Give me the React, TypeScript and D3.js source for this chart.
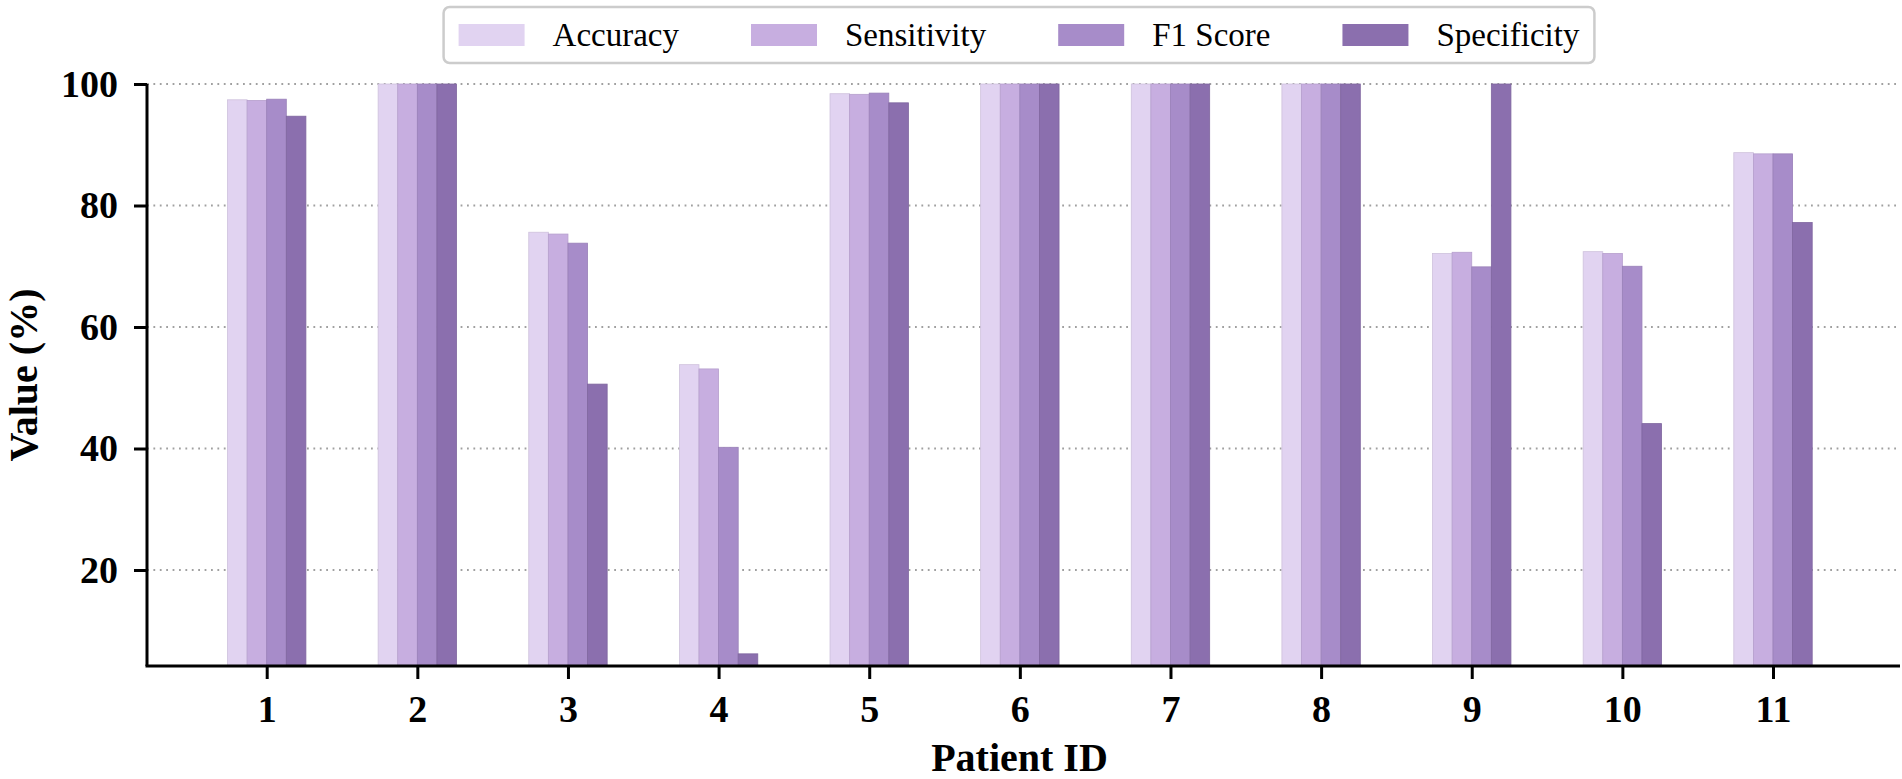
import React, { useEffect, useRef } from 'react';
import * as d3 from 'd3';

const patients = ['1', '2', '3', '4', '5', '6', '7', '8', '9', '10', '11'];
const metrics = ['Accuracy', 'Sensitivity', 'F1 Score', 'Specificity'];
const accuracy = [97.4, 100, 75.6, 53.8, 98.4, 100, 100, 100, 72.1, 72.4, 88.7];
const sensitivity = [97.3, 100, 75.3, 53.1, 98.3, 100, 100, 100, 72.3, 72.1, 88.5];
const f1Score = [97.5, 100, 73.8, 40.2, 98.5, 100, 100, 100, 69.9, 70.0, 88.5];
const specificity = [94.7, 100, 50.6, 6.2, 96.9, 100, 100, 100, 100, 44.1, 77.2];
const yTicks = [20, 40, 60, 80, 100];
const colors = ['#e1d3f1', '#c7aee0', '#a78cc9', '#8b6fae'];

const series = [accuracy, sensitivity, f1Score, specificity];

const App: React.FC = () => {
  const svgRef = useRef<SVGSVGElement>(null);

  useEffect(() => {
    if (!svgRef.current) return;
    document.body.style.margin = '0';

    const svg = d3.select(svgRef.current);
    svg.selectAll('*').remove();

    const width = 1902;
    const height = 779;
    const left = 147;
    const right = 1900;
    const top = 84;
    const bottom = 666;
    const font = '"Liberation Serif", "Times New Roman", serif';

    const x = d3.scalePoint<string>()
      .domain(patients)
      .range([266.7, 1773]);

    const y = d3.scaleLinear()
      .domain([4.2, 100])
      .range([bottom, top]);

    const barW = 19.6;

    // Grid lines (dotted)
    svg.append('g')
      .selectAll('line')
      .data(yTicks)
      .enter()
      .append('line')
      .attr('x1', left)
      .attr('x2', right)
      .attr('y1', d => y(d))
      .attr('y2', d => y(d))
      .attr('stroke', '#a0a0a0')
      .attr('stroke-width', 1.8)
      .attr('stroke-dasharray', '1.8,4.6');

    // Bars
    series.forEach((vals, si) => {
      svg.append('g')
        .selectAll('rect')
        .data(vals)
        .enter()
        .append('rect')
        .attr('x', (_, i) => x(patients[i])! - 2 * barW + si * barW)
        .attr('y', d => y(d))
        .attr('width', barW)
        .attr('height', d => bottom - y(d))
        .attr('fill', colors[si])
        .attr('stroke', d3.color(colors[si])!.darker(0.25).toString())
        .attr('stroke-width', 0.8);
    });

    // Y axis
    const yAxis = svg.append('g')
      .attr('transform', `translate(${left},0)`)
      .call(d3.axisLeft(y).tickValues(yTicks).tickSize(13).tickPadding(16).tickFormat(d3.format('d')));
    yAxis.select('.domain').attr('d', `M0,${top}V${bottom}`).attr('stroke', '#000').attr('stroke-width', 3);
    yAxis.selectAll('.tick line').attr('stroke', '#000').attr('stroke-width', 3);
    yAxis.selectAll('.tick text')
      .attr('font-family', font)
      .attr('font-weight', 'bold')
      .attr('font-size', 38)
      .attr('fill', '#000');

    // X axis
    const xAxis = svg.append('g')
      .attr('transform', `translate(0,${bottom})`)
      .call(d3.axisBottom(x).tickSize(13).tickPadding(16));
    xAxis.select('.domain').attr('d', `M${left - 1.5},0H${right}`).attr('stroke', '#000').attr('stroke-width', 3);
    xAxis.selectAll('.tick line').attr('stroke', '#000').attr('stroke-width', 3);
    xAxis.selectAll('.tick text')
      .attr('font-family', font)
      .attr('font-weight', 'bold')
      .attr('font-size', 38)
      .attr('fill', '#000');

    // Axis titles
    svg.append('text')
      .attr('x', (left + right) / 2 - 4)
      .attr('y', 771)
      .attr('text-anchor', 'middle')
      .attr('font-family', font)
      .attr('font-weight', 'bold')
      .attr('font-size', 40)
      .text('Patient ID');

    svg.append('text')
      .attr('transform', `translate(37,${(top + bottom) / 2}) rotate(-90)`)
      .attr('text-anchor', 'middle')
      .attr('font-family', font)
      .attr('font-weight', 'bold')
      .attr('font-size', 40)
      .text('Value (%)');

    // Legend
    const lg = svg.append('g');
    const patchW = 66;
    const patchH = 22;
    const textPad = 28;
    const colGap = 72;
    const legendFont = 33;
    const items = lg.selectAll('g')
      .data(metrics)
      .enter()
      .append('g');
    items.append('rect')
      .attr('width', patchW)
      .attr('height', patchH)
      .attr('y', -patchH / 2)
      .attr('fill', (_, i) => colors[i]);
    items.append('text')
      .attr('x', patchW + textPad)
      .attr('dy', '0.34em')
      .attr('font-family', font)
      .attr('font-size', legendFont)
      .text(d => d);

    let cx = 0;
    items.each(function () {
      const g = d3.select(this);
      const w = (g.select('text').node() as SVGTextElement).getComputedTextLength();
      g.attr('transform', `translate(${cx},0)`);
      cx += patchW + textPad + w + colGap;
    });
    const totalW = cx - colGap;
    const pad = 15;
    const boxW = totalW + 2 * pad;
    const boxX = 1019 - boxW / 2;
    const legendY = 35;
    lg.insert('rect', ':first-child')
      .attr('x', -pad)
      .attr('y', -28)
      .attr('width', boxW)
      .attr('height', 56)
      .attr('rx', 6)
      .attr('fill', '#fff')
      .attr('stroke', '#cccccc')
      .attr('stroke-width', 2.5);
    lg.attr('transform', `translate(${boxX + pad},${legendY})`);

    svg.attr('width', width).attr('height', height);
  }, []);

  return (
    <div style={{ position: 'absolute', left: 0, top: 0, width: 1902, height: 779, background: '#fff' }}>
      <svg ref={svgRef} width={1902} height={779} style={{ display: 'block' }}></svg>
    </div>
  );
};

export default App;
